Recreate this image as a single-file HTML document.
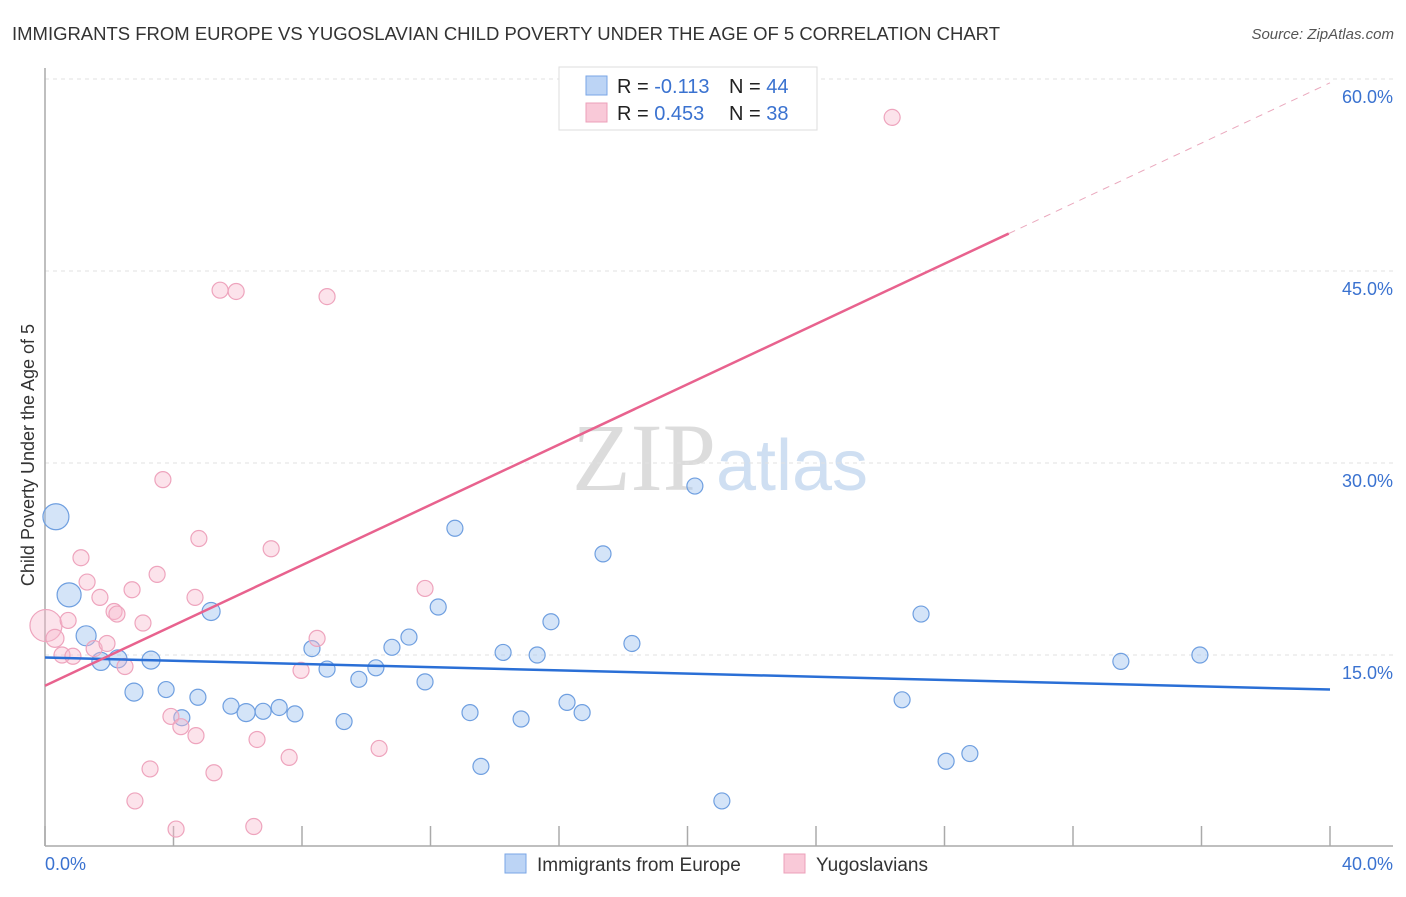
<!DOCTYPE html>
<html><head><meta charset="utf-8"><style>
body{margin:0;background:#fff;font-family:"Liberation Sans",sans-serif;}
svg text{font-family:"Liberation Sans",sans-serif;}
</style></head><body>
<svg width="1406" height="892" viewBox="0 0 1406 892" id="chart">
<text x="12" y="40" font-size="18" fill="#333" textLength="988" lengthAdjust="spacingAndGlyphs">IMMIGRANTS FROM EUROPE VS YUGOSLAVIAN CHILD POVERTY UNDER THE AGE OF 5 CORRELATION CHART</text>
<text x="1394" y="39" font-size="15" fill="#555" text-anchor="end" font-style="italic">Source: ZipAtlas.com</text>
<text x="720" y="490" font-size="96" fill="#ddd" text-anchor="middle" font-family="Liberation Serif"><tspan fill="#dcdcdc" font-family="Liberation Serif">ZIP</tspan><tspan fill="#cfdff2" font-family="Liberation Sans" font-size="72">atlas</tspan></text>
<g id="grid"></g>
<line x1="45" y1="68" x2="45" y2="846" stroke="#aaa" stroke-width="1.5"/>
<line x1="45" y1="846" x2="1393" y2="846" stroke="#aaa" stroke-width="1.5"/>
<g id="xticks"></g>
<text x="34" y="455" font-size="18" fill="#333" text-anchor="middle" transform="rotate(-90 34 455)">Child Poverty Under the Age of 5</text>
<text x="45" y="870" font-size="18" fill="#3a72d0">0.0%</text>
<text x="1393" y="870" font-size="18" fill="#3a72d0" text-anchor="end">40.0%</text>
<g id="points"></g>
<g id="lines"></g>
<g>
<rect x="559" y="67" width="258" height="63" fill="#fff" stroke="#ddd"/>
<rect x="586" y="76" width="21" height="19" fill="#bcd4f5" stroke="#7aa6e6"/>
<rect x="586" y="103" width="21" height="19" fill="#f9c9d8" stroke="#eca0ba"/>
<text x="617" y="93" font-size="20" fill="#222">R = <tspan fill="#3a72d0">-0.113</tspan></text>
<text x="729" y="93" font-size="20" fill="#222">N = <tspan fill="#3a72d0">44</tspan></text>
<text x="617" y="120" font-size="20" fill="#222">R = <tspan fill="#3a72d0">0.453</tspan></text>
<text x="729" y="120" font-size="20" fill="#222">N = <tspan fill="#3a72d0"> 38</tspan></text>
</g>
<g>
<rect x="505" y="854" width="21" height="19" fill="#bcd4f5" stroke="#7aa6e6"/>
<text x="537" y="871" font-size="19" fill="#333">Immigrants from Europe</text>
<rect x="784" y="854" width="21" height="19" fill="#f9c9d8" stroke="#eca0ba"/>
<text x="816" y="871" font-size="19" fill="#333">Yugoslavians</text>
</g>
</svg>
<script>
const yTicks=[15,30,45,60];
const xTickVals=[0,4,8,12,16,20,24,28,32,36,40];
const blueX=[0.34,0.75,1.28,1.74,2.27,3.30,2.77,3.77,4.76,4.26,5.17,5.79,6.26,6.79,7.29,7.78,8.31,8.78,9.31,9.77,10.30,10.80,11.33,11.83,12.24,12.76,13.23,13.57,14.26,14.82,15.32,15.75,16.25,16.72,17.37,18.27,20.23,21.07,26.68,27.27,28.05,28.79,33.49,35.95];
const blueY=[25.8,19.7,16.5,14.5,14.7,14.6,12.1,12.3,11.7,10.1,18.4,11.0,10.5,10.6,10.9,10.4,15.5,13.9,9.8,13.1,14.0,15.6,16.4,12.9,18.75,24.9,10.5,6.3,15.2,10.0,15.0,17.6,11.3,10.5,22.9,15.9,28.2,3.6,11.5,18.2,6.7,7.3,14.5,15.0];
const blueS=[13,12,10,9,9,9,9,8,8,8,9,8,9,8,8,8,8,8,8,8,8,8,8,8,8,8,8,8,8,8,8,8,8,8,8,8,8,8,8,8,8,8,8,8];
const pinkX=[0.03,0.31,0.72,1.12,1.31,1.71,1.53,1.93,2.15,2.24,0.53,0.87,2.49,2.71,3.05,3.49,3.67,4.79,4.67,3.92,4.23,4.70,3.27,2.80,4.08,5.26,5.45,5.95,6.60,6.50,7.04,7.60,7.97,8.47,8.78,10.40,11.83,26.37];
const pinkY=[17.3,16.3,17.7,22.6,20.7,19.5,15.5,15.9,18.4,18.2,15.0,14.9,14.1,20.1,17.5,21.3,28.7,24.1,19.5,10.2,9.4,8.7,6.1,3.6,1.4,5.8,43.5,43.4,8.4,1.6,23.3,7.0,13.8,16.3,43.0,7.7,20.2,57.0];
const pinkS=[16,9,8,8,8,8,8,8,8,8,8,8,8,8,8,8,8,8,8,8,8,8,8,8,8,8,8,8,8,8,8,8,8,8,8,8,8,8];
const blueLine=[14.8,12.3];
const pinkLine=[12.6,59.7];
const NS='http://www.w3.org/2000/svg';
const X=v=>45+v*(1285/40), Y=v=>847-v*12.8;
function mk(t,a,p){const e=document.createElementNS(NS,t);for(const k in a)e.setAttribute(k,a[k]);p.appendChild(e);return e;}
const g=document.getElementById('grid');
yTicks.forEach(t=>{
 const l=mk('line',{x1:45,x2:1393,y1:Y(t),y2:Y(t),stroke:'#e2e2e2','stroke-dasharray':'4 4'},g);
 
 
 const tx=mk('text',{x:1393,y:Y(t)+24,'font-size':18,fill:'#3a72d0','text-anchor':'end'},g);
 tx.textContent=t.toFixed(1)+'%';
 
 
});
const xt=document.getElementById('xticks');
xTickVals.forEach(t=>{
 const l=mk('line',{x1:X(t),x2:X(t),y1:826,y2:846,stroke:'#aaa','stroke-width':1.5},xt);
 
 
});
const pg=document.getElementById('points');
blueX.forEach((x,i)=>{
 const c=mk('circle',{cx:X(x),cy:Y(blueY[i]),r:blueS[i],fill:'rgba(160,195,240,0.45)',stroke:'#6f9fe0','stroke-width':1.2},pg);
 
 
});
pinkX.forEach((x,i)=>{
 const c=mk('circle',{cx:X(x),cy:Y(pinkY[i]),r:pinkS[i],fill:'rgba(248,185,205,0.4)',stroke:'#eea4bd','stroke-width':1.2},pg);
 
 
});
const lg=document.getElementById('lines');
const bl=mk('line',{x1:X(0),y1:Y(blueLine[0]),x2:X(40),y2:Y(blueLine[1]),stroke:'#2a6fd6','stroke-width':2.5},lg);


const pm=v=>pinkLine[0]+(pinkLine[1]-pinkLine[0])*v/40;
const pl=mk('line',{x1:X(0),y1:Y(pm(0)),x2:X(30),y2:Y(pm(30)),stroke:'#e8628e','stroke-width':2.5},lg);


const pd=mk('line',{x1:X(30),y1:Y(pm(30)),x2:X(40),y2:Y(pm(40)),stroke:'#eaa8bd','stroke-width':1,'stroke-dasharray':'7 6'},lg);


</script>
</body></html>
